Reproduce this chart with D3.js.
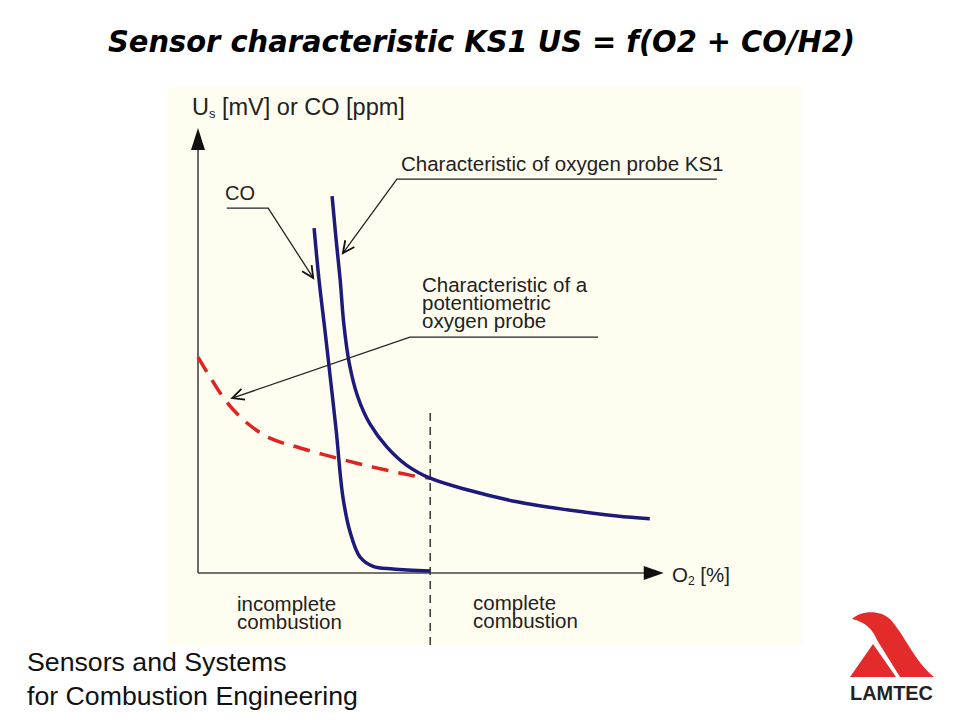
<!DOCTYPE html>
<html><head><meta charset="utf-8">
<script src="https://cdn.jsdelivr.net/npm/d3@7"></script>
<style>body{margin:0;background:#fff}svg{display:block}</style>
</head><body>
<svg id="c" width="960" height="720"></svg>
<script>
// Data (O2 [%] , relative signal 0..100)
const ks1Curve = [[2.98,84.7],[3.07,74.8],[3.16,65.8],[3.24,56.0],[3.36,47.2],[3.55,39.6],[3.82,33.5],[4.2,28.3],[4.64,24.2],[5.16,21.3],[5.98,18.7],[7.09,16.0],[8.2,14.2],[9.31,12.8],[10.04,12.2]];
const coCurve = [[2.58,77.5],[2.69,65.8],[2.82,54.6],[2.95,43.0],[3.07,32.1],[3.22,17.1],[3.38,9.2],[3.6,3.6],[3.89,1.5],[4.33,0.9],[5.16,0.45]];
const potCurve = [[0,48.5],[0.27,44.0],[0.64,38.4],[1.09,33.7],[1.6,30.3],[2.27,28.1],[3.09,25.8],[3.89,23.8],[4.71,22.0],[5.16,21.3]];
const stoichO2 = 5.16;
const xDomain = [0,10], yDomain = [0,100];
// annotation leaders (data units): label-end, elbow, arrow tip
const leaders = [
  {name:"CO", pts:[[0.64,82.0],[1.56,82.0],[2.56,66.3]]},
  {name:"KS1", pts:[[11.53,88.5],[4.42,88.5],[3.22,71.9]]},
  {name:"pot", pts:[[8.89,53.0],[4.71,53.0],[0.76,39.3]]}
];

const svg = d3.select("#c");
const x = d3.scaleLinear().domain(xDomain).range([198,648]);
const y = d3.scaleLinear().domain(yDomain).range([573,128]);
const font = "'Liberation Sans', Arial, sans-serif";

// title
svg.append("text").attr("x",481.5).attr("y",52).attr("text-anchor","middle")
  .attr("font-family","'DejaVu Sans Condensed','DejaVu Sans',sans-serif").attr("font-weight","bold").attr("font-style","italic")
  .attr("font-size",31).attr("textLength",747).attr("lengthAdjust","spacingAndGlyphs")
  .attr("fill","#000").text("Sensor characteristic KS1 US = f(O2 + CO/H2)");

// panel
svg.append("rect").attr("x",168).attr("y",87).attr("width",634).attr("height",558).attr("fill","#fffdf0");

const g = svg.append("g");
// axes
g.append("line").attr("x1",x(0)).attr("x2",x(0)).attr("y1",y(0)).attr("y2",y(100)+18).attr("stroke","#444").attr("stroke-width",1.6);
g.append("line").attr("x1",x(0)).attr("x2",x(10.35)-16).attr("y1",y(0)).attr("y2",y(0)).attr("stroke","#444").attr("stroke-width",1.6);
g.append("path").attr("d",`M${x(0)},${y(100)} L${x(0)-7},${y(100)+22} L${x(0)+7},${y(100)+22} Z`).attr("fill","#111");
g.append("path").attr("d",`M${x(10.35)},${y(0)} L${x(10.35)-20},${y(0)-7} L${x(10.35)-20},${y(0)+7} Z`).attr("fill","#111");

// stoichiometric dashed line
g.append("line").attr("x1",x(stoichO2)).attr("x2",x(stoichO2)).attr("y1",413).attr("y2",645)
  .attr("stroke","#444").attr("stroke-width",1.6).attr("stroke-dasharray","8,6");

const line = d3.line().x(d=>x(d[0])).y(d=>y(d[1])).curve(d3.curveCatmullRom.alpha(0.5));
g.append("path").attr("d",line(potCurve)).attr("fill","none").attr("stroke","#e02222").attr("stroke-width",3.5).attr("stroke-dasharray","17,10");
g.append("path").attr("d",line(coCurve)).attr("fill","none").attr("stroke","#1c1a7c").attr("stroke-width",3.5).attr("stroke-linecap","butt");
g.append("path").attr("d",line(ks1Curve)).attr("fill","none").attr("stroke","#1c1a7c").attr("stroke-width",3.5).attr("stroke-linecap","butt");

// leaders with open arrow heads
leaders.forEach(l=>{
  const p = l.pts.map(d=>[x(d[0]),y(d[1])]);
  g.append("path").attr("d",d3.line()(p)).attr("fill","none").attr("stroke","#222").attr("stroke-width",1.3);
  const a=p[2], b=p[1];
  const ang=Math.atan2(b[1]-a[1],b[0]-a[0]);
  const L=13, s=0.45;
  const h1=[a[0]+L*Math.cos(ang+s),a[1]+L*Math.sin(ang+s)];
  const h2=[a[0]+L*Math.cos(ang-s),a[1]+L*Math.sin(ang-s)];
  g.append("path").attr("d",`M${h1[0]},${h1[1]} L${a[0]},${a[1]} L${h2[0]},${h2[1]}`).attr("fill","none").attr("stroke","#111").attr("stroke-width",1.8);
});

function txt(xp,yp,s,size){return svg.append("text").attr("x",xp).attr("y",yp).attr("font-family",font).attr("font-size",size||20.5).attr("fill","#222").text(s);}
function multi(xp,yp,lines,lh){
  const t=svg.append("text").attr("x",xp).attr("y",yp).attr("font-family",font).attr("font-size",20.5).attr("fill","#222");
  lines.forEach((s,i)=>t.append("tspan").attr("x",xp).attr("dy",i?lh:0).text(s));
  return t;
}
// y label
const yl = svg.append("text").attr("x",192).attr("y",115).attr("font-family",font).attr("font-size",23.5).attr("fill","#222");
yl.append("tspan").text("U");
yl.append("tspan").attr("font-size",13).attr("dy",3).text("s");
yl.append("tspan").attr("dy",-3).text(" [mV] or CO [ppm]");
// x label
const xl = svg.append("text").attr("x",672).attr("y",582).attr("font-family",font).attr("font-size",20.5).attr("fill","#222");
xl.append("tspan").text("O");
xl.append("tspan").attr("font-size",12).attr("dy",3).text("2");
xl.append("tspan").attr("dy",-3).text(" [%]");

txt(225,200,"CO",20);
txt(401,171,"Characteristic of oxygen probe KS1");
multi(422,292,["Characteristic of a","potentiometric","oxygen probe"],18);
multi(237,611,["incomplete","combustion"],18);
multi(473,610,["complete","combustion"],18);

// footer
txt(27,671,"Sensors and Systems",26.7).attr("fill","#111");
txt(27,705,"for Combustion Engineering",26.7).attr("fill","#111");

// logo
svg.append("path").attr("d","M850,677 L873,644 L896,677 Z").attr("fill","#e32b2b");
svg.append("path").attr("d","M852,619 C860,611 879,609 890,619 C904,634 915,662 934,677 L900,677 L877,640 C873,630 866,622 852,619 Z").attr("fill","#e32b2b");
svg.append("text").attr("x",850).attr("y",700).attr("font-family",font).attr("font-weight","bold").attr("font-size",20)
  .attr("textLength",83).attr("lengthAdjust","spacingAndGlyphs").attr("fill","#222").text("LAMTEC");
</script>
</body></html>
